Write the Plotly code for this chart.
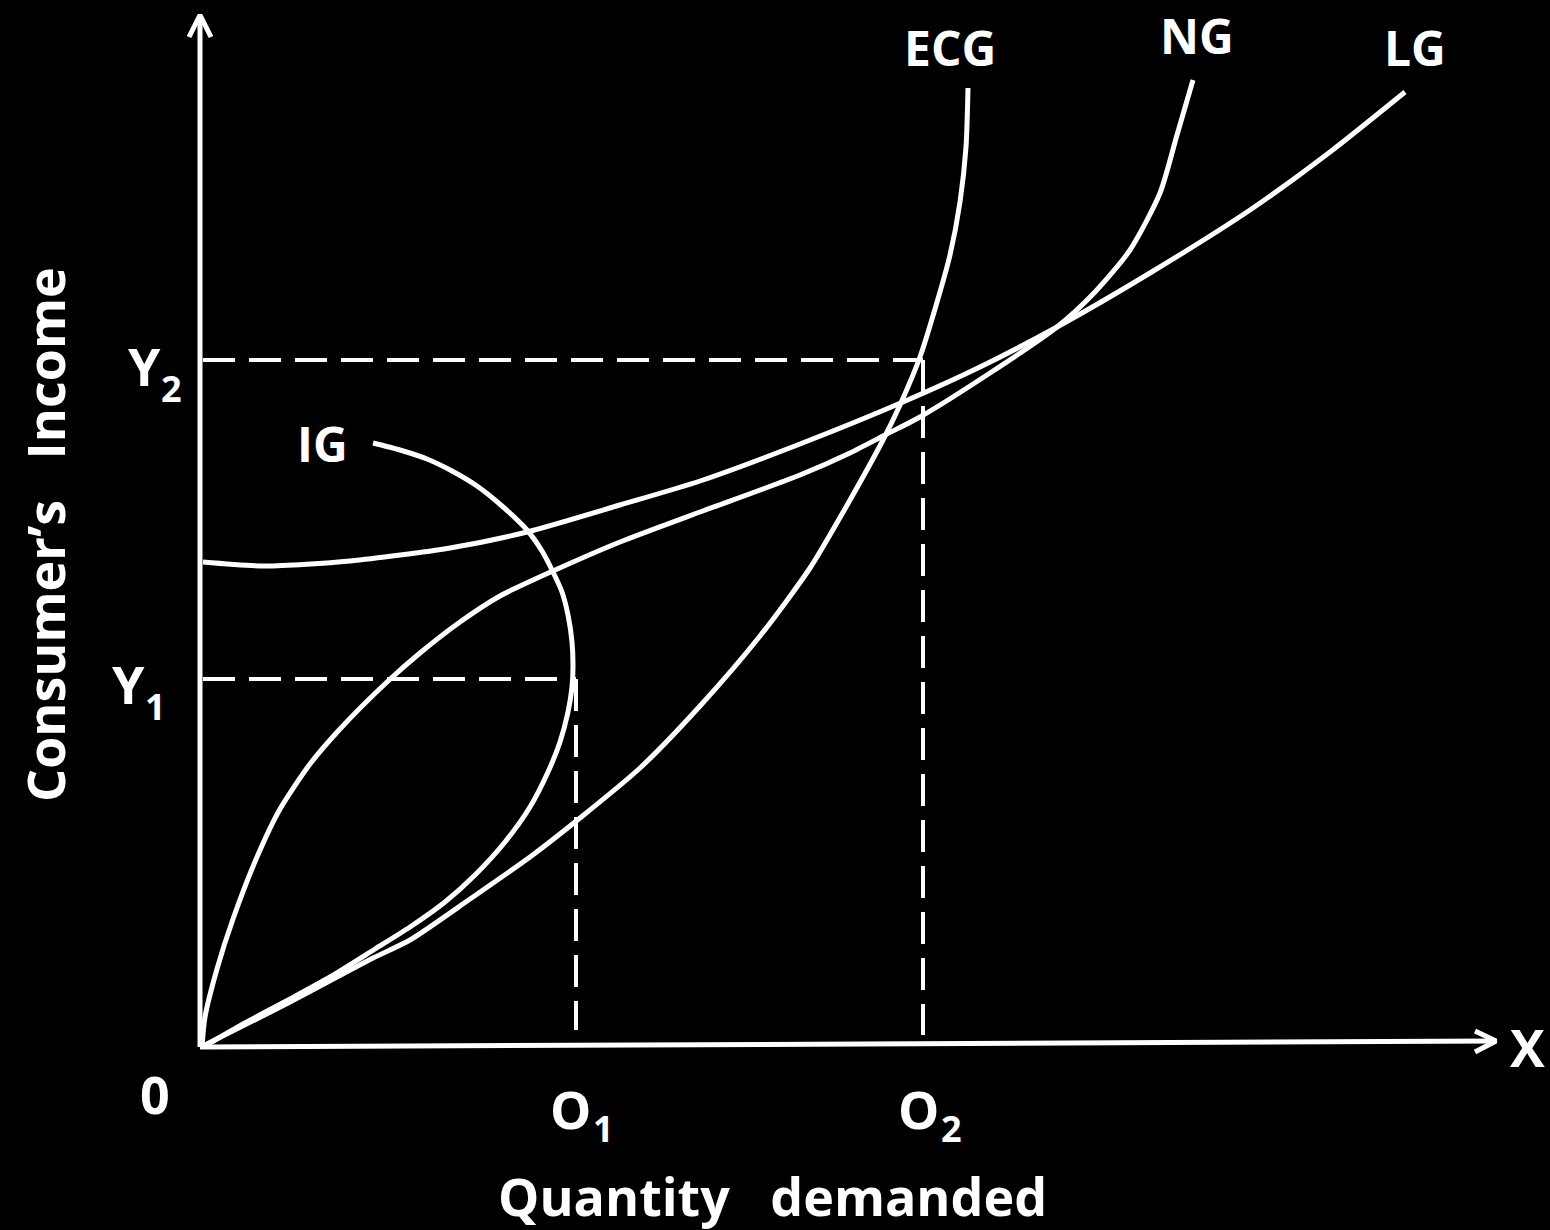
import plotly.graph_objects as go

# ---- data (quantity demanded vs consumer's income) ----
lg_qty = [3, 65, 150, 250, 327, 420, 500, 600, 703, 780, 857, 950, 1050, 1130, 1205]
lg_inc = [485, 481, 486, 499, 515, 542, 566, 603, 645, 680, 720, 774, 837, 895, 955]

ng_qty = [2, 5, 17, 33, 57, 80, 110, 140, 187, 220, 260, 300, 353, 420, 500, 600, 650, 685, 720, 790, 857, 895, 930, 960, 977, 993]
ng_inc = [0, 30, 78, 128, 190, 238, 283, 318, 365, 394, 425, 451, 476, 505, 535, 572, 594, 612, 630, 674, 720, 755, 797, 854, 912, 967]

ecg_qty = [3, 90, 173, 210, 270, 330, 380, 440, 500, 560, 610, 650, 683, 700, 720, 735, 750, 760, 766, 768]
ecg_inc = [1, 45, 89, 107, 148, 190, 229, 279, 341, 411, 479, 547, 607, 642, 690, 738, 792, 845, 900, 959]

ig_qty = [173, 200, 227, 252, 277, 302, 327, 342, 353, 362, 368, 372, 373, 372, 368, 360, 348, 330, 305, 275, 245, 210, 175, 130, 90, 45, 3]
ig_inc = [604, 597, 588, 576, 561, 541, 517, 496, 475, 455, 432, 405, 380, 360, 335, 305, 275, 240, 205, 172, 145, 120, 98, 70, 48, 24, 0]

y1_level = 368
y2_level = 687
o1_qty = 376
o2_qty = 723

curve_labels = ["ECG", "NG", "LG", "IG"]
curve_label_qty = [750, 997, 1215, 122]
curve_label_inc = [1000, 1012, 1000, 604]

x_title = "Quantity   demanded"
y_title = "Consumer’s   Income"

WHITE = "#ffffff"
fig = go.Figure()

def line(xs, ys, width=5, dash=None, shape="spline"):
    fig.add_trace(go.Scatter(x=xs, y=ys, mode="lines",
                             line=dict(color=WHITE, width=width, dash=dash, shape=shape,
                                       smoothing=0.7),
                             hoverinfo="skip", showlegend=False))

# axes with open arrow heads
line([0, 0], [0, 1031], shape="linear")
line([-11, 0, 11], [1010, 1032, 1010], shape="linear")
line([0, 1295], [0, 6], shape="linear")
line([1275, 1296, 1275], [16, 6, -5], shape="linear")

# dashed reference lines
dash = "32px,14px"
line([3, o2_qty], [y2_level, y2_level], width=4, dash=dash, shape="linear")
line([o2_qty, o2_qty], [y2_level, 12], width=4, dash=dash, shape="linear")
line([3, o1_qty], [y1_level, y1_level], width=4, dash=dash, shape="linear")
line([o1_qty, o1_qty], [y1_level, 17], width=4, dash=dash, shape="linear")

# curves
line(lg_qty, lg_inc)
line(ng_qty, ng_inc)
line(ecg_qty, ecg_inc)
line(ig_qty, ig_inc)

BIG = dict(family="Open Sans, Liberation Sans, sans-serif", size=52, color=WHITE)
SUB = dict(family="Open Sans, Liberation Sans, sans-serif", size=36, color=WHITE)
NARROW = dict(family="Liberation Sans Narrow, Open Sans, sans-serif", size=48, color=WHITE)

def txt(x, y, s, font, angle=0):
    fig.add_annotation(x=x, y=y, text="<b>%s</b>" % s, showarrow=False, font=font,
                       textangle=angle, xanchor="center", yanchor="middle")

for s, qx, iy in zip(curve_labels, curve_label_qty, curve_label_inc):
    txt(qx, iy, s, NARROW)

txt(-56, 682, "Y", BIG)
txt(-29, 659, "2", SUB)
txt(-72, 364, "Y", BIG)
txt(-45, 341, "1", SUB)
txt(-45, -46, "0", BIG)
txt(370, -61, "O", BIG)
txt(403, -81, "1", SUB)
txt(718, -61, "O", BIG)
txt(751, -81, "2", SUB)
txt(1327, 1, "X", BIG)
txt(572, -148, x_title, BIG)
txt(-156, 512, y_title, BIG, angle=-90)

fig.update_layout(
    width=1550, height=1230,
    margin=dict(l=0, r=0, t=0, b=0),
    paper_bgcolor="#000000", plot_bgcolor="#000000",
    xaxis=dict(range=[-200, 1350], visible=False, fixedrange=True),
    yaxis=dict(range=[-183, 1047], visible=False, fixedrange=True),
    showlegend=False,
)

fig.write_html("out.html", config={"displayModeBar": False},
               post_script="document.body.style.margin='0';document.body.style.background='#000';")
